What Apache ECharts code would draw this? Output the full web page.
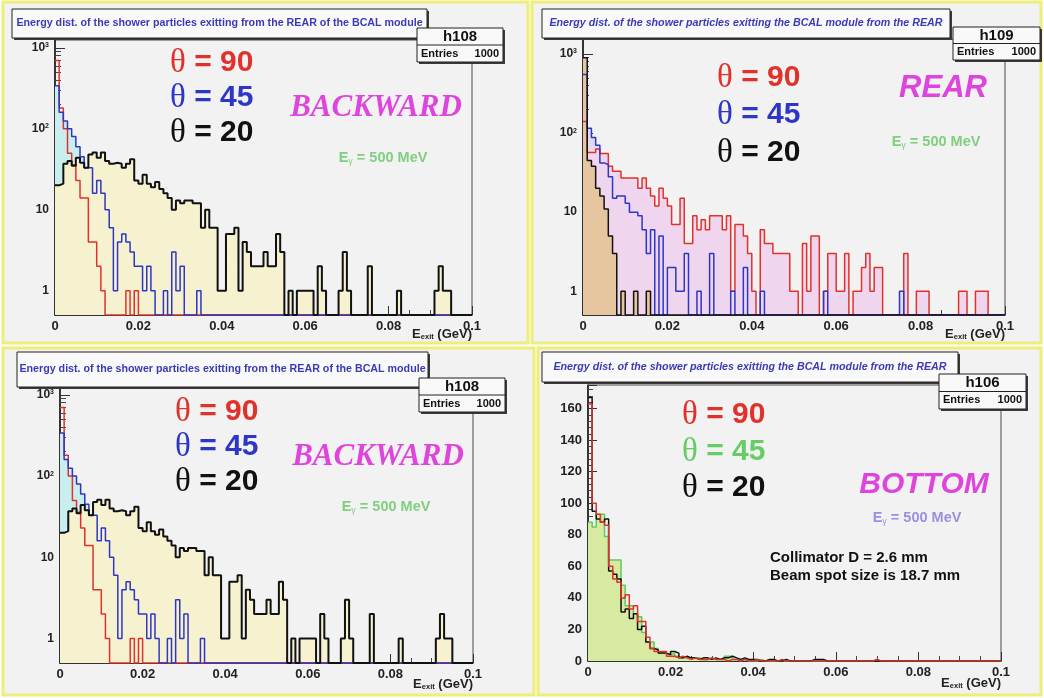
<!DOCTYPE html>
<html>
<head>
<meta charset="utf-8">
<script src="https://cdn.jsdelivr.net/npm/echarts@6/dist/echarts.min.js"></script>
<style>
html,body{margin:0;padding:0;background:#fff;}
#main{width:1044px;height:698px;}
</style>
</head>
<body>
<div id="main"></div>
<script>
// 100 bins of 1 MeV, E_exit from 0 to 0.1 GeV
var binWidth = 0.001;

// BACKWARD (h108), theta = 90 / 45 / 20
var backwardRed = [
  700,180,100,50,36,23,14,14,4,4,
  2,1,0,0,0,0,0,1,0,1,
  0,0,0,0,0,0,0,0,0,0,
  0,0,0,0,0,0,0,0,0,0,
  0,0,0,0,0,0,0,0,0,0,
  0,0,0,0,0,0,0,0,0,0,
  0,0,0,0,0,0,0,0,0,0,
  0,0,0,0,0,0,0,0,0,0,
  0,0,0,0,0,0,0,0,0,0,
  0,0,0,0,0,0,0,0,0,0];
var backwardBlue = [
  340,160,125,100,80,60,45,33,33,16,
  23,16,10,6,1,4,5,4,3,2,
  2,1,2,1,0,0,1,0,3,1,
  2,0,0,0,1,0,0,0,0,0,
  0,0,0,0,0,0,0,0,0,0,
  0,0,0,0,0,0,0,0,0,0,
  0,0,0,0,0,0,0,0,0,0,
  0,0,0,0,0,0,0,0,0,0,
  0,0,0,0,0,0,0,0,0,0,
  0,0,0,0,0,0,0,0,0,0];
var backwardBlack = [
  20,21,37,40,35,44,38,33,48,51,
  44,51,40,37,38,37,33,37,42,23,
  21,27,21,19,22,18,16,14,10,13,
  12,13,13,12,12,6,10,6,6,1,
  1,5,5,6,1,4,3,2,2,2,
  3,2,2,5,3,0,1,0,1,1,
  1,1,0,2,1,0,0,0,1,3,
  1,0,0,0,0,2,0,0,0,0,
  0,0,1,0,0,0,0,0,0,0,
  0,1,2,1,1,0,0,0,0,0];

// REAR (h109)
var rearRed = [
  140,57,57,63,55,55,38,33,33,27,
  27,27,27,20,27,20,16,12,20,15,
  12,7,7,15,4,4,9,6,8,6,
  9,9,9,6,9,1,7,7,5,3,
  1,0,6,4,4,3,3,3,3,1,
  1,0,4,1,5,5,0,1,3,3,
  1,1,3,0,1,1,2,3,1,2,
  2,0,0,0,0,0,3,0,0,1,
  1,1,0,0,0,0,0,0,0,1,
  1,0,0,1,1,1,0,0,0,0];
var rearBlue = [
  550,115,88,70,42,40,28,15,16,16,
  13,10,10,9,6,3,6,0,5,0,
  2,2,1,1,3,0,0,1,0,0,
  3,0,0,0,0,1,0,0,2,0,
  0,0,1,0,0,0,0,0,0,0,
  0,0,0,0,0,0,0,1,0,0,
  0,0,0,0,0,0,0,0,0,0,
  0,0,0,0,0,1,0,0,0,0,
  0,0,0,0,0,0,0,0,0,0,
  0,0,0,0,0,0,0,0,0,0];
var rearBlack = [
  900,45,38,20,16,11,5,3,0,1,
  0,0,1,0,0,1,0,0,0,0,
  0,0,0,0,0,0,0,0,0,0,
  0,0,0,0,0,0,0,0,0,0,
  0,0,0,0,0,0,0,0,0,0,
  0,0,0,0,0,0,0,0,0,0,
  0,0,0,0,0,0,0,0,0,0,
  0,0,0,0,0,0,0,0,0,0,
  0,0,0,0,0,0,0,0,0,0,
  0,0,0,0,0,0,0,0,0,0];

// BOTTOM (h106), linear scale
var bottomRed = [
  163,100,93,88,86,60,52,50,40,42,
  33,35,25,25,15,8,6,6,6,3,
  3,2,3,2,1,2,1,1,1,2,
  1,1,1,0,1,1,0,1,0,0,
  1,0,0,0,0,0,1,0,0,0,
  0,0,0,0,0,0,0,0,0,0,
  0,0,0,0,0,0,0,0,0,1,
  0,0,0,0,0,0,0,0,0,0,
  0,0,0,0,0,0,0,0,0,0,
  0,0,0,0,0,0,0,0,0,0];
var bottomGreen = [
  88,85,93,93,79,64,64,64,48,35,
  35,30,28,18,12,12,8,5,5,4,
  5,3,2,2,1,2,2,1,1,2,
  1,1,1,3,3,1,0,1,0,0,
  0,1,0,0,0,0,0,0,0,0,
  0,0,0,0,0,0,0,0,0,0,
  0,0,0,0,0,0,0,0,0,1,
  0,0,0,0,0,0,0,0,0,0,
  0,0,0,0,0,0,0,0,0,0,
  0,0,0,0,0,0,0,0,0,0];
var bottomBlack = [
  167,95,90,88,90,57,55,52,31,33,
  27,30,20,22,12,8,7,5,5,4,
  6,5,2,3,2,2,1,2,2,1,
  2,1,2,2,3,2,1,2,1,1,
  1,0,0,1,1,0,0,1,0,0,
  0,0,0,0,1,1,1,0,0,0,
  0,0,0,0,0,0,0,0,0,0,
  0,0,0,0,0,0,0,0,0,0,
  0,0,0,0,0,0,0,0,0,0,
  0,0,0,0,0,0,0,0,0,0];

var logMajorTicks = [1, 10, 100, 1000];
var logMinorTicks = [0.6,0.7,0.8,0.9, 2,3,4,5,6,7,8,9, 20,30,40,50,60,70,80,90, 200,300,400,500,600,700,800,900];
var linTickLabels = [0, 20, 40, 60, 80, 100, 120, 140, 160];

var RED = '#e0322b', BLUE = '#2e36c6', BLACK = '#111111', GREEN = '#5fcb5f';
var LOG_FLOOR = 0.5;

// build step-histogram points; empty bins sit on the floor of the axis
function histData(values, floor) {
  var d = [];
  for (var i = 0; i < values.length; i++) {
    d.push([+(i * binWidth).toFixed(3), values[i] > 0 ? values[i] : floor]);
  }
  d.push([+(values.length * binWidth).toFixed(3), d[d.length - 1][1]]);
  return d;
}
function fillSeries(values, xi, yi, color, floor) {
  return {
    type: 'line', xAxisIndex: xi, yAxisIndex: yi, step: 'end', symbol: 'none',
    data: histData(values, floor), silent: true, z: 2,
    lineStyle: { width: 0 },
    areaStyle: { color: color, opacity: 1, origin: 'start' }
  };
}
function lineSeries(values, xi, yi, color, width, floor) {
  return {
    type: 'line', xAxisIndex: xi, yAxisIndex: yi, step: 'end', symbol: 'none',
    data: histData(values, floor), silent: true, z: 3,
    lineStyle: { color: color, width: width }
  };
}

var labelFont = { fontFamily: 'Liberation Sans', fontWeight: 'bold', fontSize: 13, color: '#222' };

function xAx(gi) {
  return {
    type: 'value', gridIndex: gi, min: 0, max: 0.1, interval: 0.02,
    axisLine: { show: true, onZero: false, lineStyle: { color: '#111', width: 1.5 } },
    axisTick: { show: true, inside: true, length: 9, lineStyle: { color: '#333' } },
    minorTick: { show: true, splitNumber: 4, length: 5, lineStyle: { color: '#444' } },
    axisLabel: Object.assign({ margin: 5 }, labelFont),
    splitLine: { show: false }, minorSplitLine: { show: false }
  };
}
function logLabel(v) {
  if (v === 1) return '{n|1}';
  if (v === 10) return '{n|10}';
  return '{n|10}{s|' + Math.round(Math.log(v) / Math.LN10) + '}';
}
function yLogAxes(gi, max) {
  return [{
    type: 'log', gridIndex: gi, position: 'left', min: LOG_FLOOR, max: max,
    axisLine: { show: true, lineStyle: { color: '#111', width: 1.5 } },
    axisTick: { show: true, inside: true, length: 10, customValues: logMajorTicks, lineStyle: { color: '#333' } },
    axisLabel: {
      customValues: logMajorTicks, formatter: logLabel, margin: 6,
      rich: {
        n: { fontFamily: 'Liberation Sans', fontWeight: 'bold', fontSize: 12, color: '#222' },
        s: { fontFamily: 'Liberation Sans', fontWeight: 'bold', fontSize: 7, color: '#222', verticalAlign: 'top' }
      }
    },
    splitLine: { show: false }
  }, {
    type: 'log', gridIndex: gi, position: 'left', min: LOG_FLOOR, max: max,
    axisLine: { show: false },
    axisTick: { show: true, inside: true, length: 6, customValues: logMinorTicks, lineStyle: { color: '#444' } },
    axisLabel: { show: false },
    splitLine: { show: false }
  }];
}

var grids = [
  { left: 55, top: 40, width: 417, height: 275 },
  { left: 583, top: 39, width: 422, height: 276 },
  { left: 60, top: 387, width: 413, height: 276 },
  { left: 588, top: 385, width: 413, height: 276 }
].map(function (g) {
  return Object.assign({ show: true, borderColor: '#4a4a4a', borderWidth: 1, backgroundColor: 'transparent' }, g);
});

var yAxes = [].concat(yLogAxes(0, 1250), yLogAxes(1, 1550), yLogAxes(2, 1250), [{
  type: 'value', gridIndex: 3, position: 'left', min: 0, max: 175, interval: 20,
  axisLine: { show: true, lineStyle: { color: '#111', width: 1.5 } },
  axisTick: { show: true, inside: true, length: 9, lineStyle: { color: '#333' } },
  minorTick: { show: true, splitNumber: 5, length: 5, lineStyle: { color: '#444' } },
  axisLabel: Object.assign({
    margin: 6,
    formatter: function (v) { return linTickLabels.indexOf(v) >= 0 ? String(v) : ''; }
  }, labelFont),
  splitLine: { show: false }
}]);

var series = [
  // BACKWARD top
  fillSeries(backwardBlue, 0, 0, '#c8eeee', LOG_FLOOR),
  fillSeries(backwardBlack, 0, 0, '#f6f2d0', LOG_FLOOR),
  lineSeries(backwardRed, 0, 0, RED, 1.5, LOG_FLOOR),
  lineSeries(backwardBlue, 0, 0, BLUE, 1.5, LOG_FLOOR),
  lineSeries(backwardBlack, 0, 0, BLACK, 2, LOG_FLOOR),
  // REAR
  fillSeries(rearBlue, 1, 2, '#e0daf2', LOG_FLOOR),
  fillSeries(rearRed, 1, 2, '#efd6ee', LOG_FLOOR),
  fillSeries(rearBlack, 1, 2, '#e6c69e', LOG_FLOOR),
  lineSeries(rearRed, 1, 2, RED, 1.5, LOG_FLOOR),
  lineSeries(rearBlue, 1, 2, BLUE, 1.5, LOG_FLOOR),
  lineSeries(rearBlack, 1, 2, BLACK, 1.5, LOG_FLOOR),
  // BACKWARD bottom
  fillSeries(backwardBlue, 2, 4, '#c8eeee', LOG_FLOOR),
  fillSeries(backwardBlack, 2, 4, '#f6f2d0', LOG_FLOOR),
  lineSeries(backwardRed, 2, 4, RED, 1.5, LOG_FLOOR),
  lineSeries(backwardBlue, 2, 4, BLUE, 1.5, LOG_FLOOR),
  lineSeries(backwardBlack, 2, 4, BLACK, 2, LOG_FLOOR),
  // BOTTOM
  fillSeries(bottomGreen, 3, 6, '#d8eaa2', 0),
  lineSeries(bottomGreen, 3, 6, GREEN, 1.5, 0),
  lineSeries(bottomBlack, 3, 6, BLACK, 1.5, 0),
  lineSeries(bottomRed, 3, 6, RED, 1.5, 0)
];

// ---- decorations (panels, title boxes, stats boxes, text) ----
var g = [];
function panel(x, y, w, h) {
  g.push({ type: 'rect', z: -10, shape: { x: x, y: y, width: w, height: h },
    style: { fill: '#f2f2f2', stroke: '#eeee7a', lineWidth: 3 } });
}
function pave(x, y, w, h) {
  g.push({ type: 'rect', z: 90, shape: { x: x + 2, y: y + 2, width: w, height: h }, style: { fill: '#3a3a3a' } });
  g.push({ type: 'rect', z: 91, shape: { x: x, y: y, width: w, height: h }, style: { fill: '#f9f9f9', stroke: '#222', lineWidth: 1 } });
}
function text(x, y, str, font, fill, align, z, rich) {
  var st = { text: str, font: font, fill: fill, align: align || 'left', verticalAlign: 'middle' };
  if (rich) st.rich = rich;
  g.push({ type: 'text', z: z || 95, x: x, y: y, style: st });
}
function title(x, y, w, h, str, italic) {
  pave(x, y, w, h);
  text(x + w / 2, y + h / 2, str, (italic ? 'italic ' : '') + 'bold 10.7px "Liberation Sans"', '#3a3ab8', 'center');
}
function stats(x, y, w, h, name) {
  pave(x, y, w, h);
  g.push({ type: 'line', z: 92, shape: { x1: x, y1: y + h / 2, x2: x + w, y2: y + h / 2 }, style: { stroke: '#222', lineWidth: 1 } });
  text(x + w / 2, y + h / 4 + 0.5, name, 'bold 15px "Liberation Sans"', '#111', 'center');
  text(x + 4, y + 3 * h / 4, 'Entries', 'bold 11px "Liberation Sans"', '#111', 'left');
  text(x + w - 4, y + 3 * h / 4, '1000', 'bold 11px "Liberation Sans"', '#111', 'right');
}
function theta(x, y, val, color) {
  var rich = {
    t: { fontFamily: 'Liberation Serif', fontSize: 33, fill: color },
    n: { fontFamily: 'Liberation Sans', fontWeight: 'bold', fontSize: 30, fill: color }
  };
  text(x, y, '{t|\u03b8}{n| = ' + val + '}', '30px "Liberation Sans"', color, 'left', 50, rich);
}
function egamma(x, y, color) {
  var rich = {
    e: { fontFamily: 'Liberation Sans', fontWeight: 'bold', fontSize: 14.5, fill: color },
    g: { fontFamily: 'Liberation Sans', fontSize: 9, fill: color, verticalAlign: 'bottom', padding: [7, 0, 0, 0] }
  };
  text(x, y, '{e|E}{g|\u03b3}{e| = 500 MeV}', '14px "Liberation Sans"', color, 'center', 50, rich);
}
function xTitle(x, y) {
  var rich = {
    e: { fontFamily: 'Liberation Sans', fontWeight: 'bold', fontSize: 13, fill: '#222' },
    s: { fontFamily: 'Liberation Sans', fontWeight: 'bold', fontSize: 7.5, fill: '#222', verticalAlign: 'bottom', padding: [6, 0, 0, 0] }
  };
  text(x, y, '{e|E}{s|exit}{e| (GeV)}', '13px "Liberation Sans"', '#222', 'right', 50, rich);
}

panel(3, 2, 525, 341);
panel(532, 2, 509, 341);
panel(3, 348, 531, 347);
panel(538, 348, 503, 347);

// top-left
title(12, 9, 415, 29, 'Energy dist. of the shower particles exitting from the REAR of the BCAL module', false);
stats(417, 28, 86, 34, 'h108');
theta(170, 63, '90', RED);
theta(170, 98, '45', BLUE);
theta(170, 133, '20', BLACK);
text(376, 108, 'BACKWARD', 'italic bold 31px "Liberation Serif"', '#dd45dd', 'center', 50);
egamma(383, 158, '#80cf80');
xTitle(472, 334);

// top-right
title(542, 9, 408, 29, 'Energy dist. of the shower particles exitting the BCAL module from the REAR', true);
stats(953, 27, 87, 33, 'h109');
theta(717, 78, '90', RED);
theta(717, 115, '45', BLUE);
theta(717, 153, '20', BLACK);
text(943, 88, 'REAR', 'italic bold 31px "Liberation Sans"', '#dd45dd', 'center', 50);
egamma(936, 142, '#80cf80');
xTitle(1005, 334);

// bottom-left
title(17, 352, 411, 35, 'Energy dist. of the shower particles exitting from the REAR of the BCAL module', false);
stats(419, 378, 86, 34, 'h108');
theta(175, 412, '90', RED);
theta(175, 447, '45', BLUE);
theta(175, 482, '20', BLACK);
text(378, 457, 'BACKWARD', 'italic bold 31px "Liberation Serif"', '#dd45dd', 'center', 50);
egamma(386, 507, '#80cf80');
xTitle(473, 684);

// bottom-right
title(542, 352, 416, 30, 'Energy dist. of the shower particles exitting the BCAL module from the REAR', true);
stats(939, 374, 87, 35, 'h106');
theta(682, 415, '90', RED);
theta(682, 452, '45', '#66cc66');
theta(682, 488, '20', BLACK);
text(924, 485, 'BOTTOM', 'italic bold 30px "Liberation Sans"', '#dd45dd', 'center', 50);
egamma(917, 518, '#9a90e0');
text(770, 558, 'Collimator D = 2.6 mm', 'bold 15px "Liberation Sans"', '#111', 'left', 50);
text(770, 576, 'Beam spot size is 18.7 mm', 'bold 15px "Liberation Sans"', '#111', 'left', 50);
xTitle(1001, 683);

var myChart = echarts.init(document.getElementById('main'), null, { renderer: 'canvas' });
myChart.setOption({
  animation: false,
  backgroundColor: '#ffffff',
  grid: grids,
  xAxis: [xAx(0), xAx(1), xAx(2), xAx(3)],
  yAxis: yAxes,
  series: series,
  graphic: { elements: g }
});
</script>
</body>
</html>
